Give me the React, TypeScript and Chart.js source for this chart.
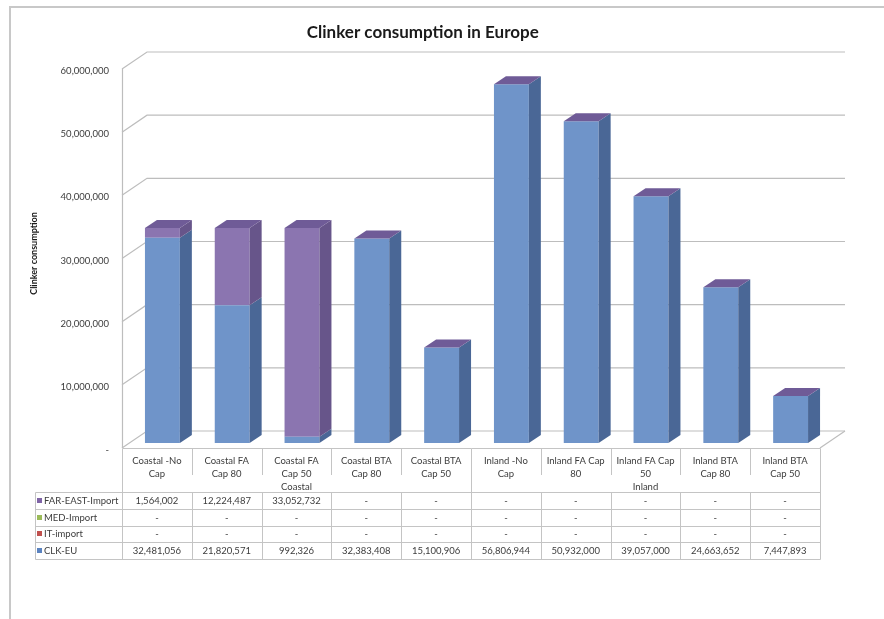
import React, { useEffect, useRef } from "react";
import { Chart, registerables } from "chart.js";

Chart.register(...registerables);

// Scenario names, two text lines each as printed in the data table header
const categories: string[][] = [
  ["Coastal -No", "Cap"],
  ["Coastal FA", "Cap 80"],
  ["Coastal FA", "Cap 50"],
  ["Coastal BTA", "Cap 80"],
  ["Coastal BTA", "Cap 50"],
  ["Inland -No", "Cap"],
  ["Inland FA Cap", "80"],
  ["Inland FA Cap", "50"],
  ["Inland BTA", "Cap 80"],
  ["Inland BTA", "Cap 50"],
];

const groupNames = ["Coastal", "Inland"];
const groupSizes = [5, 5];

// Clinker volumes per source (tonnes)
const farEastImport = [1564002, 12224487, 33052732, 0, 0, 0, 0, 0, 0, 0];
const medImport = [0, 0, 0, 0, 0, 0, 0, 0, 0, 0];
const itImport = [0, 0, 0, 0, 0, 0, 0, 0, 0, 0];
const clkEu = [32481056, 21820571, 992326, 32383408, 15100906, 56806944, 50932000, 39057000, 24663652, 7447893];

const yMax = 60000000;
const yStep = 10000000;

const FONT = 'Lato, "DejaVu Sans", sans-serif';
const TEXT_SIZE = 9.5;

// Series in stacking order (bottom first); the table lists them in reverse
const series = [
  { label: "CLK-EU", data: clkEu, front: "#6f94c9", side: "#4a6796", top: "#8eaedb", swatch: "#5b83c0" },
  { label: "IT-import", data: itImport, front: "#c0504d", side: "#8f3b39", top: "#d27876", swatch: "#c0504d" },
  { label: "MED-Import", data: medImport, front: "#9bbb59", side: "#748c42", top: "#b5cf81", swatch: "#9bbb59" },
  { label: "FAR-EAST-Import", data: farEastImport, front: "#8b75b0", side: "#67558a", top: "#6f5b97", swatch: "#7f64a6" },
];

// 3D offsets relative to the bar front plane
const FLOOR_FRONT = { dx: -5.5, dy: 5 };
const FLOOR_BACK = { dx: 19.5, dy: -12 };
const BAR_DEPTH = { dx: 12, dy: -8 };

const fmt = (v: number) => (v === 0 ? "-" : v.toLocaleString("en-US"));

const threeD = {
  id: "threeD",
  beforeDraw(chart: any) {
    const ctx = chart.ctx;
    ctx.save();
    ctx.fillStyle = "#ffffff";
    ctx.fillRect(0, 0, chart.width, chart.height);
    // outer chart frame
    ctx.strokeStyle = "#c8c8c8";
    ctx.lineWidth = 2;
    ctx.beginPath();
    ctx.moveTo(chart.width, 7);
    ctx.lineTo(10, 7);
    ctx.lineTo(10, chart.height);
    ctx.stroke();
    ctx.restore();
  },
  beforeDatasetsDraw(chart: any) {
    const ctx = chart.ctx;
    const y = chart.scales.y;
    const a = chart.chartArea;
    ctx.save();
    ctx.strokeStyle = "#bdbdbd";
    ctx.lineWidth = 1.2;
    for (const t of y.ticks) {
      const py = y.getPixelForValue(t.value);
      ctx.beginPath();
      ctx.moveTo(a.left + FLOOR_FRONT.dx, py + FLOOR_FRONT.dy);
      ctx.lineTo(a.left + FLOOR_BACK.dx, py + FLOOR_BACK.dy);
      ctx.lineTo(a.right + FLOOR_BACK.dx, py + FLOOR_BACK.dy);
      ctx.stroke();
    }
    // floor right edge
    const py0 = y.getPixelForValue(0);
    ctx.beginPath();
    ctx.moveTo(a.right + FLOOR_FRONT.dx, py0 + FLOOR_FRONT.dy);
    ctx.lineTo(a.right + FLOOR_BACK.dx, py0 + FLOOR_BACK.dy);
    ctx.stroke();
    // front vertical axis line
    ctx.beginPath();
    ctx.moveTo(Math.round(a.left + FLOOR_FRONT.dx) + 0.5, y.getPixelForValue(yMax) + FLOOR_FRONT.dy);
    ctx.lineTo(Math.round(a.left + FLOOR_FRONT.dx) + 0.5, py0 + FLOOR_FRONT.dy);
    ctx.stroke();
    ctx.restore();
  },
  afterDatasetsDraw(chart: any) {
    const ctx = chart.ctx;
    const n = categories.length;
    ctx.save();
    for (let d = 0; d < series.length; d++) {
      const meta = chart.getDatasetMeta(d);
      for (let i = 0; i < n; i++) {
        const el: any = meta.data[i];
        if (!el) continue;
        const top = Math.min(el.y, el.base);
        const bot = Math.max(el.y, el.base);
        if (bot - top < 0.01) continue;
        const r = el.x + el.width / 2;
        ctx.fillStyle = series[d].side;
        ctx.beginPath();
        ctx.moveTo(r, top);
        ctx.lineTo(r + BAR_DEPTH.dx, top + BAR_DEPTH.dy);
        ctx.lineTo(r + BAR_DEPTH.dx, bot + BAR_DEPTH.dy);
        ctx.lineTo(r, bot);
        ctx.closePath();
        ctx.fill();
      }
    }
    // top caps belong to the last stacked series
    const last = series.length - 1;
    const lastMeta = chart.getDatasetMeta(last);
    for (let i = 0; i < n; i++) {
      const el: any = lastMeta.data[i];
      const l = el.x - el.width / 2;
      const r = el.x + el.width / 2;
      const t = Math.min(el.y, el.base);
      ctx.fillStyle = series[last].top;
      ctx.beginPath();
      ctx.moveTo(l, t);
      ctx.lineTo(l + BAR_DEPTH.dx, t + BAR_DEPTH.dy);
      ctx.lineTo(r + BAR_DEPTH.dx, t + BAR_DEPTH.dy);
      ctx.lineTo(r, t);
      ctx.closePath();
      ctx.fill();
    }
    ctx.restore();
  },
  afterDraw(chart: any) {
    const ctx = chart.ctx;
    const x = chart.scales.x;
    const y = chart.scales.y;
    const a = chart.chartArea;
    const n = categories.length;
    const catW = (a.right - a.left) / n;
    const colL = (i: number) => x.getPixelForValue(i) - catW / 2 + FLOOR_FRONT.dx;
    const colC = (i: number) => x.getPixelForValue(i) + FLOOR_FRONT.dx;
    const tableTop = y.getPixelForValue(0) + FLOOR_FRONT.dy;
    const headerBottom = tableTop + 44;
    const rowH = 16.75;
    const legendLeft = 35;
    const left = colL(0);
    const right = colL(n - 1) + catW;
    const rows = [...series].reverse();
    const tableBottom = headerBottom + rowH * rows.length;
    const px = (v: number) => Math.round(v) + 0.5;

    ctx.save();
    ctx.strokeStyle = "#c4c4c4";
    ctx.lineWidth = 1;
    ctx.beginPath();
    // header outline
    ctx.moveTo(px(left), px(tableTop));
    ctx.lineTo(px(right), px(tableTop));
    ctx.moveTo(px(left), px(tableTop));
    ctx.lineTo(px(left), px(headerBottom));
    ctx.moveTo(px(right), px(tableTop));
    ctx.lineTo(px(right), px(tableBottom));
    // row lines
    for (let r = 0; r <= rows.length; r++) {
      const yy = px(headerBottom + r * rowH);
      ctx.moveTo(px(legendLeft), yy);
      ctx.lineTo(px(right), yy);
    }
    ctx.moveTo(px(legendLeft), px(headerBottom));
    ctx.lineTo(px(legendLeft), px(tableBottom));
    // column lines in the data rows
    for (let i = 0; i < n; i++) {
      ctx.moveTo(px(colL(i)), px(headerBottom));
      ctx.lineTo(px(colL(i)), px(tableBottom));
    }
    // short separators between category labels and group dividers
    let start = 0;
    for (let g = 0; g < groupSizes.length; g++) {
      for (let k = 1; k < groupSizes[g]; k++) {
        const xx = px(colL(start + k));
        ctx.moveTo(xx, px(tableTop));
        ctx.lineTo(xx, tableTop + 27);
      }
      start += groupSizes[g];
      if (g < groupSizes.length - 1) {
        const xx = px(colL(start));
        ctx.moveTo(xx, px(tableTop));
        ctx.lineTo(xx, px(headerBottom));
      }
    }
    ctx.stroke();

    // header texts
    ctx.fillStyle = "#3c3c3c";
    ctx.font = `${TEXT_SIZE}px ${FONT}`;
    ctx.textAlign = "center";
    ctx.textBaseline = "middle";
    for (let i = 0; i < n; i++) {
      ctx.fillText(categories[i][0], colC(i), tableTop + 13);
      ctx.fillText(categories[i][1], colC(i), tableTop + 26);
    }
    start = 0;
    for (let g = 0; g < groupNames.length; g++) {
      const c = (colL(start) + colL(start + groupSizes[g] - 1) + catW) / 2;
      ctx.fillText(groupNames[g], c, tableTop + 39);
      start += groupSizes[g];
    }
    // rows
    rows.forEach((s, r) => {
      const cy = headerBottom + r * rowH + rowH / 2 + 0.5;
      ctx.fillStyle = s.swatch;
      ctx.fillRect(37, Math.round(cy - 3), 5, 5);
      ctx.fillStyle = "#3c3c3c";
      ctx.textAlign = "left";
      ctx.fillText(s.label, 44, cy);
      ctx.textAlign = "center";
      for (let i = 0; i < n; i++) ctx.fillText(fmt(s.data[i]), colC(i), cy);
    });
    ctx.restore();
  },
};

export default function App() {
  const ref = useRef<HTMLCanvasElement>(null);
  useEffect(() => {
    const chart = new Chart(ref.current as HTMLCanvasElement, {
      type: "bar",
      data: {
        labels: categories.map((c) => c.join(" ")),
        datasets: series.map((s) => ({
          label: s.label,
          data: s.data,
          backgroundColor: s.front,
          borderWidth: 0,
          barPercentage: 0.5,
          categoryPercentage: 1,
        })),
      },
      options: {
        responsive: false,
        maintainAspectRatio: false,
        animation: false,
        layout: { padding: { left: 20, right: 58.5, top: 0, bottom: 176 } },
        plugins: {
          legend: { display: false },
          tooltip: { enabled: false },
          title: {
            display: true,
            text: "Clinker consumption in Europe",
            color: "#1a1a1a",
            font: { family: FONT, size: 17, weight: "bold" },
            padding: { top: 22, bottom: 21.6 },
          },
        },
        scales: {
          x: { stacked: true, display: false },
          y: {
            stacked: true,
            min: 0,
            max: yMax,
            border: { display: false },
            grid: { display: false, drawTicks: false },
            ticks: {
              stepSize: yStep,
              padding: 18.5,
              labelOffset: 7,
              color: "#3c3c3c",
              font: { family: FONT, size: TEXT_SIZE },
              callback: (v: any) => fmt(Number(v)),
            },
            title: {
              display: true,
              text: "Clinker consumption",
              color: "#1a1a1a",
              font: { family: FONT, size: 9, weight: "bold" },
              padding: { top: 8.5, bottom: 0 },
            },
            afterFit: (scale: any) => {
              scale.width = 107.5;
            },
          },
        },
      },
      plugins: [threeD],
    } as any);
    return () => chart.destroy();
  }, []);
  return (
    <div style={{ position: "fixed", left: 0, top: 0, width: 884, height: 619, background: "#fff" }}>
      <canvas ref={ref} width={884} height={619} style={{ display: "block" }} />
    </div>
  );
}
